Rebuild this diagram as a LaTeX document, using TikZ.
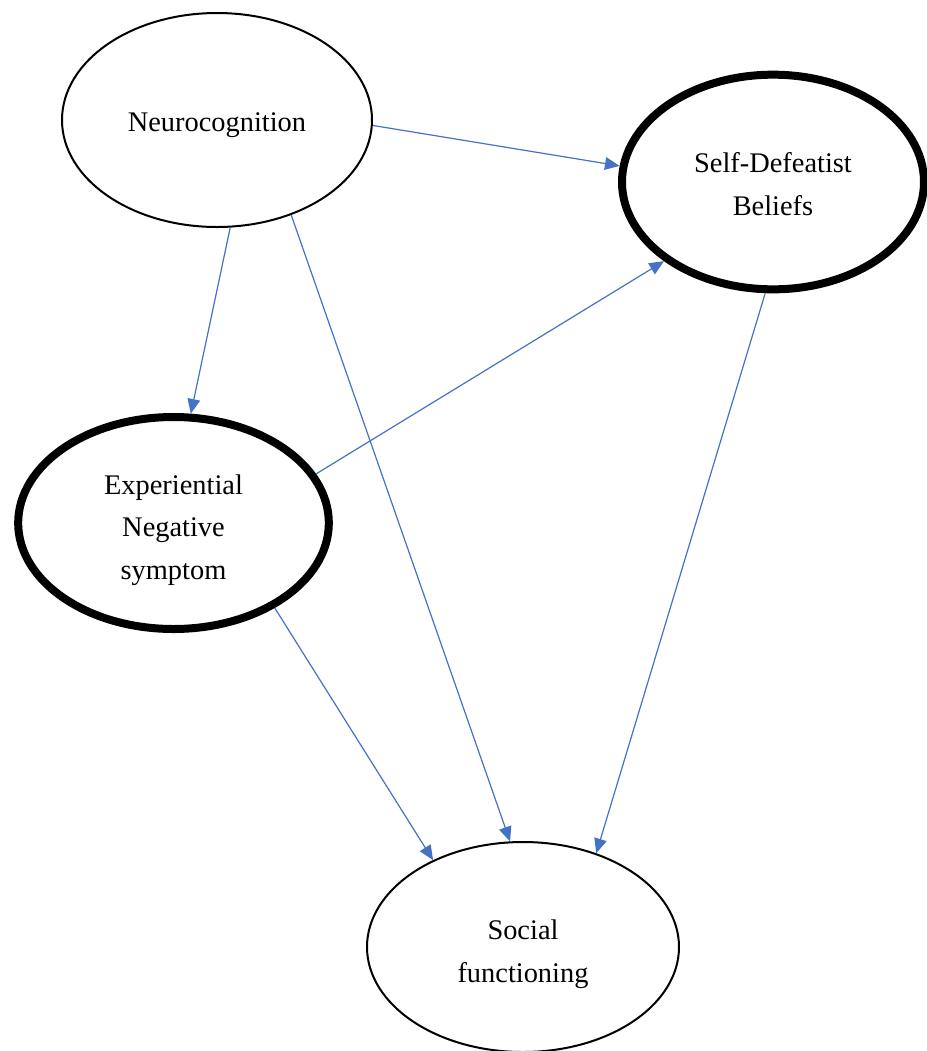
\documentclass[tikz,border=0pt]{standalone}
\usepackage{fontspec}
\setmainfont{Liberation Serif}
\usetikzlibrary{shapes.geometric,arrows.meta}
\definecolor{arrowblue}{HTML}{4472C4}
\begin{document}
\begin{tikzpicture}[x=0.75pt,y=-0.75pt,
  construct/.style={ellipse,draw=black,line width=1.5pt,inner sep=0pt},
  heavy/.style={construct,line width=6pt},
  caption/.style={align=center,inner sep=0pt,font=\fontsize{21.3}{32}\selectfont},
  link/.style={draw=arrowblue,line width=0.9pt,-{Triangle[length=11pt,width=9.5pt]}}]
\useasboundingbox (0,0) rectangle (927,1051);
\node[construct,minimum width=232.5pt,minimum height=160.5pt,
  label={[caption,yshift=-3.75pt]center:Neurocognition}] (neuro) at (217,120) {};
\node[heavy,minimum width=226.5pt,minimum height=161pt,
  label={[caption,yshift=-1.5pt]center:Self-Defeatist\\Beliefs}] (self) at (773,182) {};
\node[heavy,minimum width=233pt,minimum height=159pt,
  label={[caption,yshift=-5.25pt]center:Experiential\\Negative\\symptom}] (exp) at (173.5,523) {};
\node[construct,minimum width=234pt,minimum height=157.5pt,
  label={[caption,yshift=-5.25pt]center:Social\\functioning}] (social) at (523,947) {};
\draw[link] (neuro.-2) -- (self.174);
\draw[link] (neuro.-83) -- (exp.81);
\draw[link] (neuro.-52) -- (social.97);
\draw[link] (exp.19) -- (self.216);
\draw[link] (exp.-40) -- (social.136);
\draw[link] (self.266) -- (social.52);
\end{tikzpicture}
\end{document}
